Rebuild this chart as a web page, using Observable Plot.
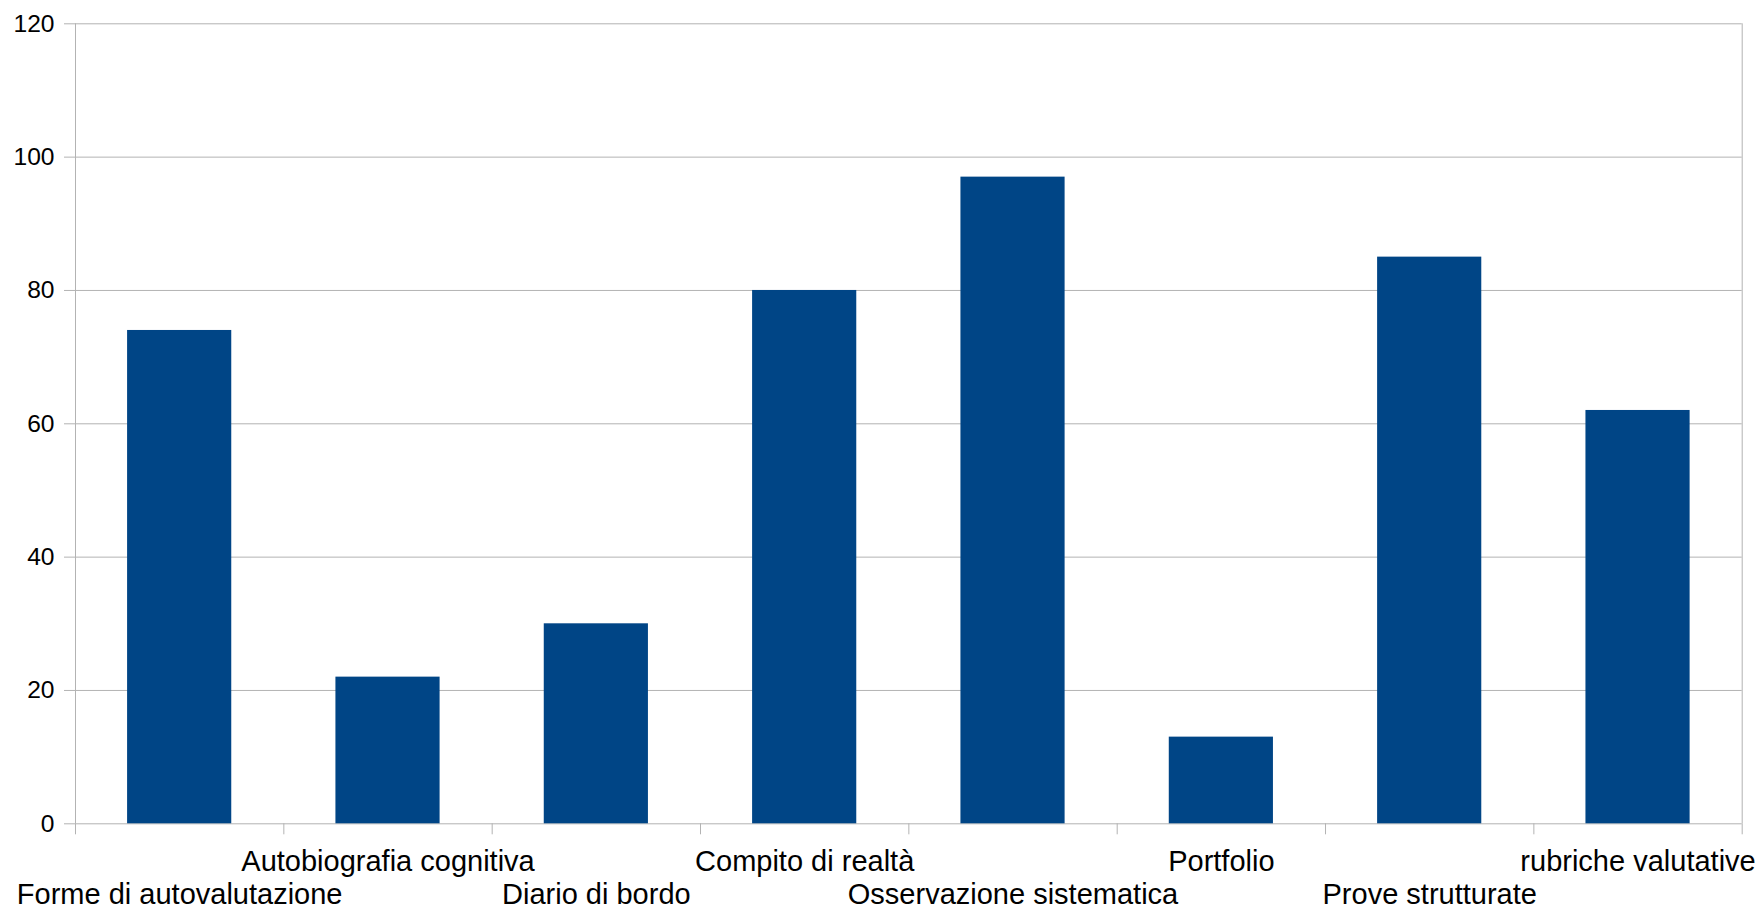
<!DOCTYPE html>
<html>
<head>
<meta charset="utf-8">
<script src="https://cdn.jsdelivr.net/npm/d3@7"></script>
<script src="https://cdn.jsdelivr.net/npm/@observablehq/plot@0.6"></script>
<style>
  html, body { margin: 0; padding: 0; background: #fff; }
  #chart svg { display: block; }
</style>
</head>
<body>
<div id="chart"></div>
<script>
const categories = [
  "Forme di autovalutazione",
  "Autobiografia cognitiva",
  "Diario di bordo",
  "Compito di realtà",
  "Osservazione sistematica",
  "Portfolio",
  "Prove strutturate",
  "rubriche valutative"
];
const values = [74, 22, 30, 80, 97, 13, 85, 62];
const yTicks = [0, 20, 40, 60, 80, 100, 120];

const data = categories.map((c, i) => ({category: c, value: values[i], index: i}));
const boundaries = d3.range(0, categories.length + 1);
const font = "'Liberation Sans', Arial, sans-serif";
const gridColor = "#b3b3b3";
const barColor = "#004586";

const chart = Plot.plot({
  width: 1760,
  height: 909,
  marginLeft: 75,
  marginRight: 18.3,
  marginTop: 23.3,
  marginBottom: 85.7,
  style: {fontFamily: font, color: "#000", background: "#fff"},
  x: {domain: [0, categories.length], axis: null},
  y: {domain: [0, 120], axis: null},
  marks: [
    Plot.gridY(yTicks, {stroke: gridColor, strokeOpacity: 1}),
    Plot.axisY({ticks: yTicks, label: null, tickSize: 11, tickPadding: 10, stroke: gridColor, strokeOpacity: 1, fill: "#000", fontSize: 24.6, fontFamily: font}),
    Plot.ruleX([0, categories.length], {y1: 0, y2: 120, stroke: gridColor}),
    Plot.axisX({ticks: boundaries, label: null, tickSize: 11, tickFormat: () => "", stroke: gridColor, strokeOpacity: 1}),
    Plot.rectY(data, {x1: d => d.index + 0.25, x2: d => d.index + 0.75, y: "value", fill: barColor}),
    Plot.text(data.filter(d => d.index % 2 === 1), {
      x: d => d.index + 0.5, y: 0, text: "category",
      dy: 37.6, lineAnchor: "middle", textAnchor: "middle",
      fontSize: 29, fontFamily: font, fill: "#000"
    }),
    Plot.text(data.filter(d => d.index % 2 === 0), {
      x: d => d.index + 0.5, y: 0, text: "category",
      dy: 71.1, lineAnchor: "middle", textAnchor: "middle",
      fontSize: 29, fontFamily: font, fill: "#000"
    })
  ]
});
document.getElementById("chart").appendChild(chart);
</script>
</body>
</html>
